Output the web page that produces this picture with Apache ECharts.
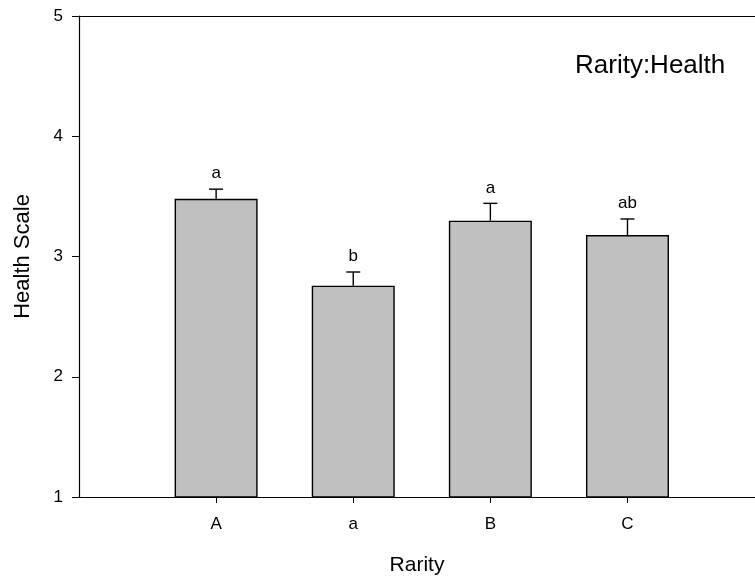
<!DOCTYPE html>
<html>
<head>
<meta charset="utf-8">
<script src="https://cdn.jsdelivr.net/npm/echarts@6/dist/echarts.min.js"></script>
<style>html,body{margin:0;padding:0;background:#fff}#c{width:755px;height:579px}</style>
</head>
<body>
<div id="c"></div>
<script>
var categories = ['A', 'a', 'B', 'C'];
var positions = [1, 2, 3, 4];
var means = [3.48, 2.757, 3.298, 3.179];
var errTops = [3.56, 2.871, 3.442, 3.312];
var letters = ['a', 'b', 'a', 'ab'];
var yTicks = [1, 2, 3, 4, 5];

var chart = echarts.init(document.getElementById('c'));
var font = 'Liberation Sans, Arial, sans-serif';
var barData = positions.map(function (p, i) { return [p, means[i]]; });
var errData = positions.map(function (p, i) { return [p, means[i], errTops[i], i]; });

chart.setOption({
  animation: false,
  title: {
    text: 'Rarity:Health', left: 570, top: 48,
    textStyle: { fontFamily: font, fontSize: 26, fontWeight: 'normal', color: '#000' }
  },
  grid: { left: 79, top: 16, right: 0, bottom: 82, outerBoundsMode: 'none', containLabel: false },
  xAxis: [{
    type: 'value', min: 0, max: 4.93, position: 'bottom',
    name: 'Rarity', nameLocation: 'middle', nameGap: 58,
    nameTextStyle: { fontFamily: font, fontSize: 21, color: '#000' },
    splitLine: { show: false },
    axisLine: { lineStyle: { color: '#000', width: 1.2 } },
    axisTick: { show: true, length: 6, customValues: positions, lineStyle: { color: '#000' } },
    axisLabel: {
      customValues: positions, margin: 19, fontFamily: font, fontSize: 17, color: '#000',
      formatter: function (v) { return categories[positions.indexOf(Math.round(v))] || ''; }
    }
  }, {
    type: 'value', min: 0, max: 4.93, position: 'top',
    splitLine: { show: false }, axisTick: { show: false }, axisLabel: { show: false },
    axisLine: { show: true, lineStyle: { color: '#000', width: 1.2 } }
  }],
  yAxis: {
    type: 'value', min: 1, max: 5, interval: 1,
    name: 'Health Scale', nameLocation: 'middle', nameGap: 45,
    nameTextStyle: { fontFamily: font, fontSize: 22, color: '#000' },
    splitLine: { show: false },
    axisLine: { show: true, lineStyle: { color: '#000', width: 1.2 } },
    axisTick: { show: true, length: 7, lineStyle: { color: '#000' } },
    axisLabel: { margin: 16, fontFamily: font, fontSize: 17, color: '#000' }
  },
  series: [{
    type: 'bar', data: barData, barWidth: 83, xAxisIndex: 0,
    itemStyle: { color: '#c0c0c0', borderColor: '#000', borderWidth: 1.4 }
  }, {
    type: 'custom', data: errData, xAxisIndex: 0, z: 5,
    renderItem: function (params, api) {
      var x = api.value(0);
      var base = api.coord([x, api.value(1)]);
      var top = api.coord([x, api.value(2)]);
      var idx = api.value(3);
      var hw = 7;
      return {
        type: 'group',
        children: [{
          type: 'line', shape: { x1: base[0], y1: base[1], x2: top[0], y2: top[1] },
          style: { stroke: '#000', lineWidth: 1.4 }
        }, {
          type: 'line', shape: { x1: top[0] - hw, y1: top[1], x2: top[0] + hw, y2: top[1] },
          style: { stroke: '#000', lineWidth: 1.4 }
        }, {
          type: 'text', x: top[0], y: top[1] - 7,
          style: { text: letters[idx], fontFamily: font, fontSize: 17, fill: '#000', align: 'center', verticalAlign: 'bottom' }
        }]
      };
    }
  }]
});
</script>
</body>
</html>
